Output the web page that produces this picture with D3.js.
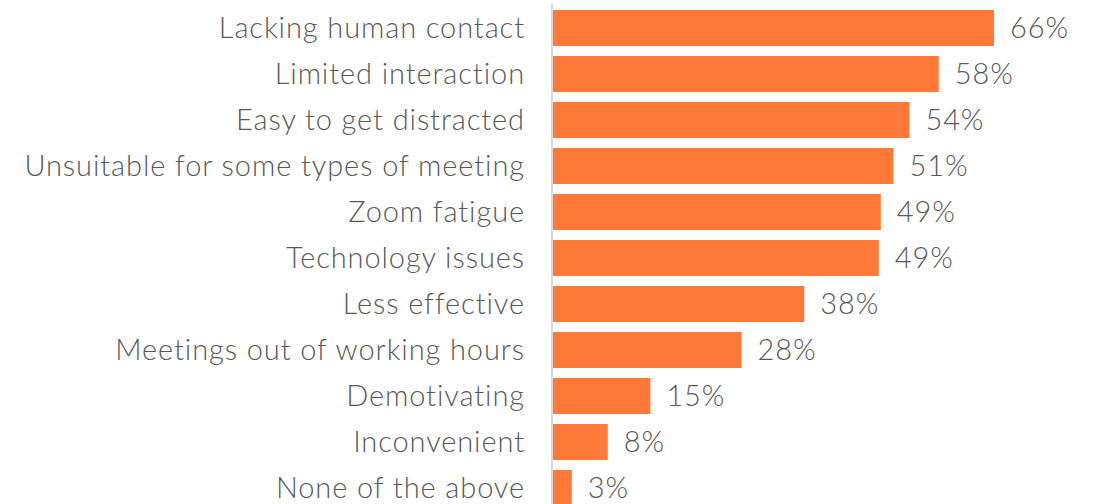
<!DOCTYPE html>
<html>
<head>
<meta charset="utf-8">
<script src="https://cdn.jsdelivr.net/npm/d3@7"></script>
<style>
  body { margin: 0; background: #fff; }
  text { font-family: Lato, "Noto Sans", sans-serif; fill: #595959; }
</style>
</head>
<body>
<div id="chart"></div>
<script>
// chart data (bar lengths, labels rounded)
var categories = ["Lacking human contact", "Limited interaction", "Easy to get distracted",
    "Unsuitable for some types of meeting", "Zoom fatigue", "Technology issues",
    "Less effective", "Meetings out of working hours", "Demotivating",
    "Inconvenient", "None of the above"];
var values = [66.3, 58.0, 53.6, 51.2, 49.3, 49.0, 37.8, 28.4, 14.7, 8.3, 2.9];

var width = 1097, height = 504;
var x0 = 552.5;

var svg = d3.select("#chart").append("svg")
    .attr("width", width)
    .attr("height", height);

var x = d3.scaleLinear()
    .domain([0, 66.3])
    .range([x0, 994]);

var y = d3.scaleBand()
    .domain(categories)
    .range([5, 5 + 46 * categories.length])
    .paddingInner(0.217)
    .paddingOuter(0.1085);

var rows = categories.map(function(c, i) { return {name: c, value: values[i]}; });

// bars
svg.selectAll(".bar")
    .data(rows)
    .enter()
    .append("rect")
    .attr("class", "bar")
    .attr("x", x(0))
    .attr("y", function(d) { return y(d.name); })
    .attr("width", function(d) { return x(d.value) - x(0); })
    .attr("height", y.bandwidth())
    .style("fill", "#FF7A38");

// axis line
svg.append("line")
    .attr("x1", x0 - 0.5).attr("x2", x0 - 0.5)
    .attr("y1", 4).attr("y2", height)
    .style("stroke", "#d9d9d9")
    .style("stroke-width", 2);

// category labels
svg.selectAll(".cat")
    .data(rows)
    .enter()
    .append("text")
    .attr("class", "cat")
    .attr("x", 525)
    .attr("y", function(d) { return y(d.name) + y.bandwidth() / 2; })
    .attr("dy", "0.35em")
    .attr("text-anchor", "end")
    .style("font-size", "29px")
    .style("font-weight", 300)
    .style("letter-spacing", "0.9px")
    .text(function(d) { return d.name; });

// value labels
svg.selectAll(".val")
    .data(rows)
    .enter()
    .append("text")
    .attr("class", "val")
    .attr("x", function(d) { return x(d.value) + 16; })
    .attr("y", function(d) { return y(d.name) + y.bandwidth() / 2; })
    .attr("dy", "0.35em")
    .style("font-size", "29px")
    .style("font-weight", 300)
    .style("letter-spacing", "0.9px")
    .text(function(d) { return Math.round(d.value) + "%"; });
</script>
</body>
</html>
